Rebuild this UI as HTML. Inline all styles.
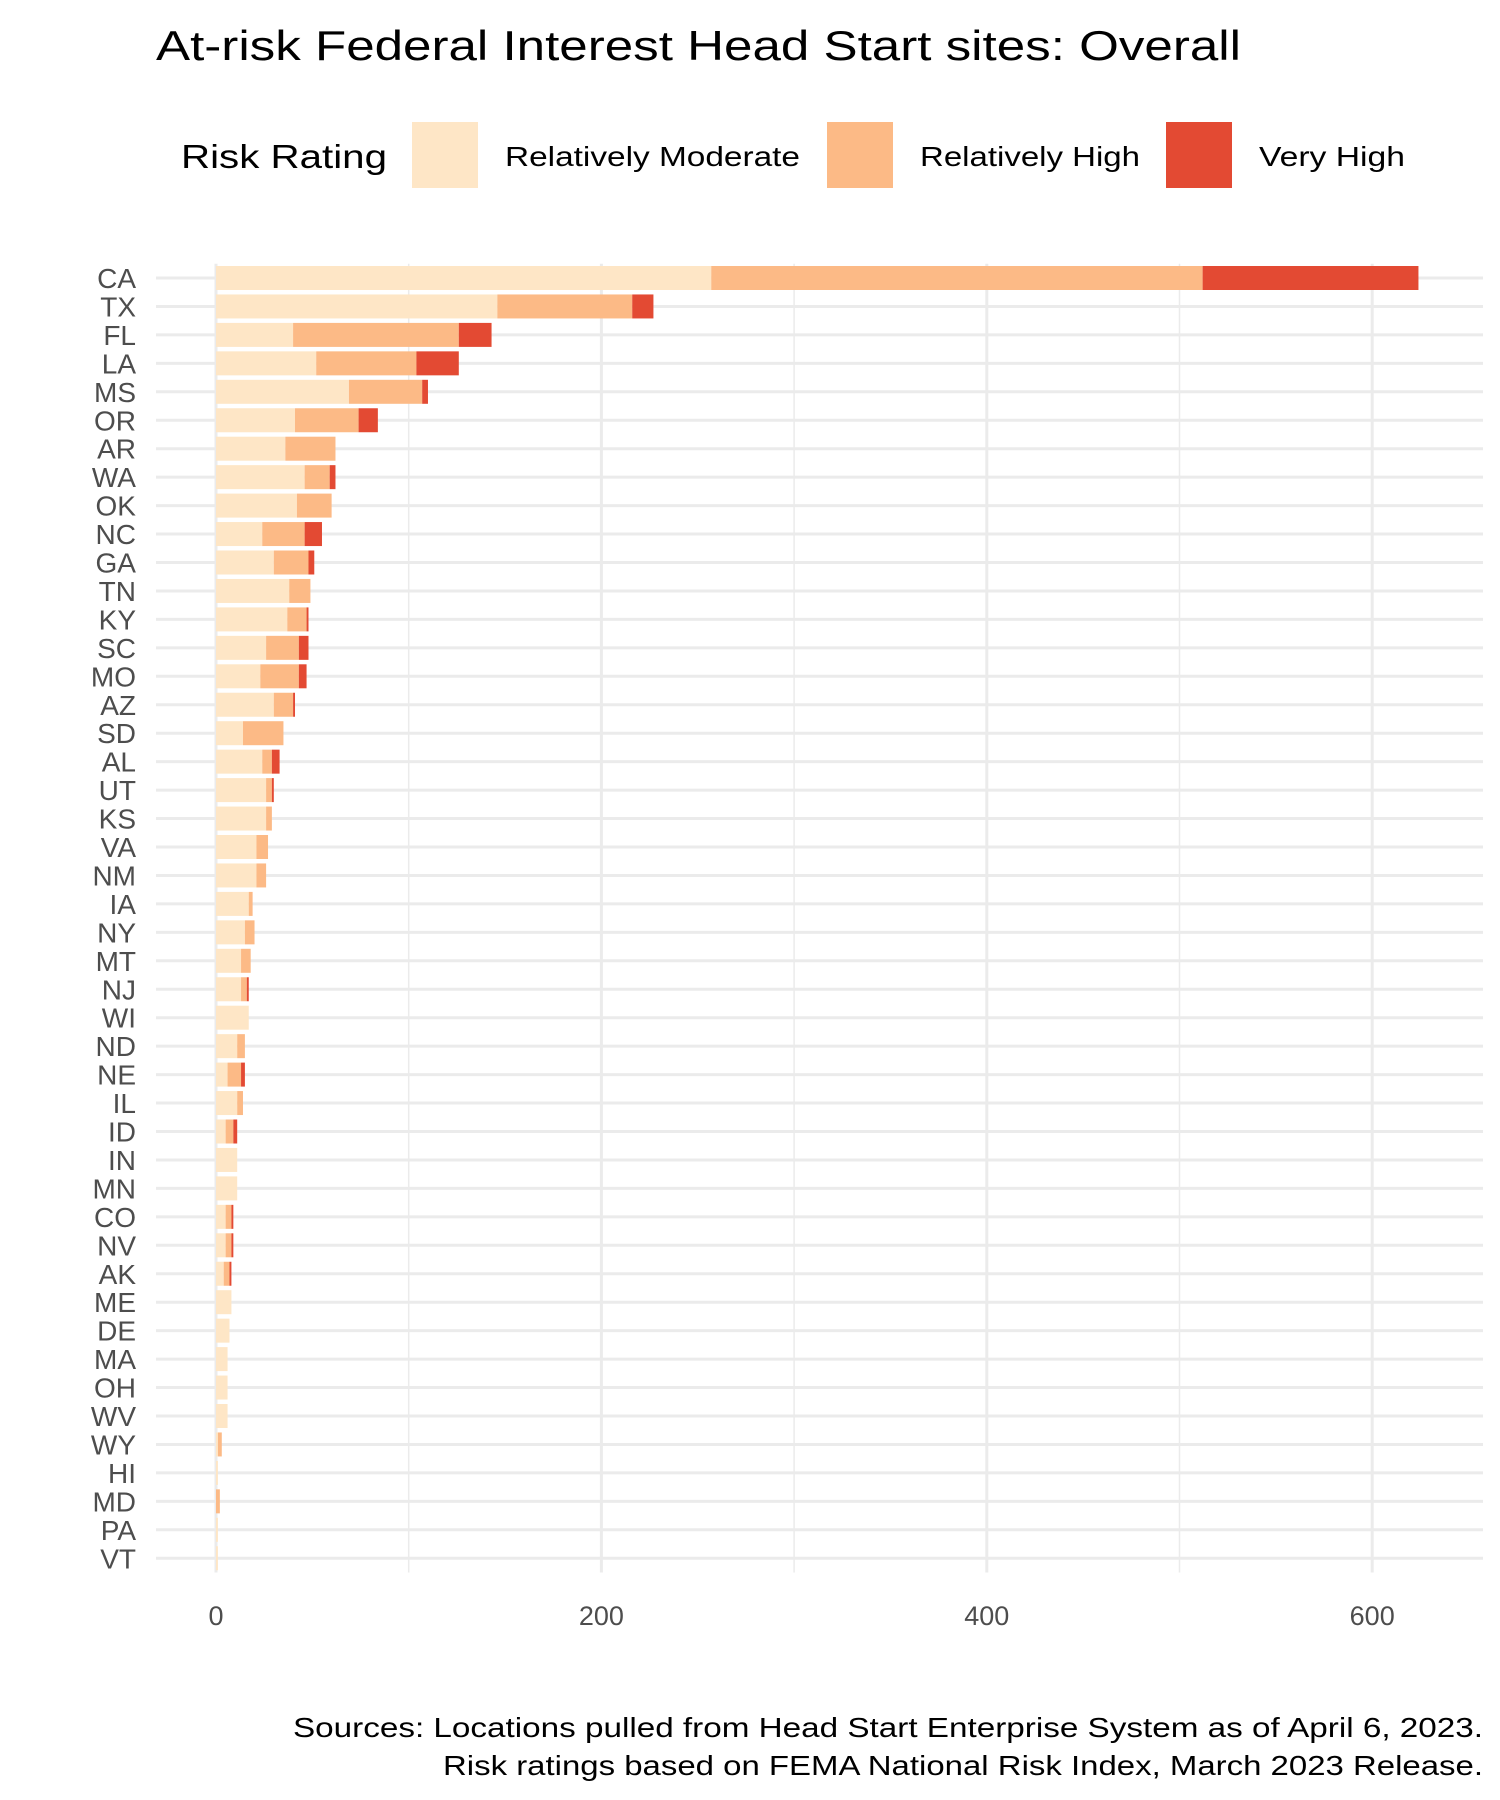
<!DOCTYPE html>
<html><head><meta charset="utf-8"><style>
html,body{margin:0;padding:0;background:#fff;}
svg{display:block;font-family:"Liberation Sans",sans-serif;}
</style></head><body>
<svg id="chart" width="1500" height="1800" viewBox="0 0 1500 1800" xmlns="http://www.w3.org/2000/svg">
<text x="156" y="60" font-size="42" fill="#000" textLength="1085" lengthAdjust="spacingAndGlyphs">At-risk Federal Interest Head Start sites: Overall</text>
<g>
<text x="181" y="168" font-size="33" fill="#000" textLength="206" lengthAdjust="spacingAndGlyphs">Risk Rating</text>
<rect x="412" y="122" width="66" height="66" fill="#fee6c6"/>
<text x="505" y="166" font-size="28" fill="#000" textLength="295" lengthAdjust="spacingAndGlyphs">Relatively Moderate</text>
<rect x="827" y="122" width="66" height="66" fill="#fcba86"/>
<text x="920" y="166" font-size="28" fill="#000" textLength="220" lengthAdjust="spacingAndGlyphs">Relatively High</text>
<rect x="1166" y="122" width="66" height="66" fill="#e34a33"/>
<text x="1259" y="166" font-size="28" fill="#000" textLength="146" lengthAdjust="spacingAndGlyphs">Very High</text>
</g>
<g id="grid"></g>
<g id="bars"></g>
<g id="ylabels"></g>
<g id="xlabels"></g>
<text x="1483" y="1737" font-size="28" text-anchor="end" fill="#000" textLength="1190" lengthAdjust="spacingAndGlyphs">Sources: Locations pulled from Head Start Enterprise System as of April 6, 2023.</text>
<text x="1483" y="1775" font-size="28" text-anchor="end" fill="#000" textLength="1040" lengthAdjust="spacingAndGlyphs">Risk ratings based on FEMA National Risk Index, March 2023 Release.</text>
</svg>
<script>
const states = ["CA","TX","FL","LA","MS","OR","AR","WA","OK","NC","GA","TN","KY","SC","MO","AZ","SD","AL","UT","KS","VA","NM","IA","NY","MT","NJ","WI","ND","NE","IL","ID","IN","MN","CO","NV","AK","ME","DE","MA","OH","WV","WY","HI","MD","PA","VT"];
const moderate = [257,146,40,52,69,41,36,46,42,24,30,38,37,26,23,30,14,24,26,26,21,21,17,15,13,13,17,11,6,11,5,11,11,5,5,4,8,7,6,6,6,1,1,0,1,1];
const high = [255,70,86,52,38,33,26,13,18,22,18,11,10,17,20,10,21,5,3,3,6,5,2,5,5,3,0,4,7,3,4,0,0,3,3,3,0,0,0,0,0,2,0,2,0,0];
const veryHigh = [112,11,17,22,3,10,0,3,0,9,3,0,1,5,4,1,0,4,1,0,0,0,0,0,0,1,0,0,2,0,2,0,0,1,1,1,0,0,0,0,0,0,0,0,0,0];
const xTicks = [0,200,400,600];
const xMinor = [100,300,500];

const NS="http://www.w3.org/2000/svg";
const x0=216, xScale=1.927, yTop=278, step=28.45, bandH=24;
const plotL=156, plotR=1483;
function xPos(v){return x0+v*xScale;}
function yPos(i){return yTop+i*step;}
function mk(tag,attrs,parent){const e=document.createElementNS(NS,tag);for(const k in attrs)e.setAttribute(k,attrs[k]);parent.appendChild(e);return e;}
const grid=document.getElementById('grid'),bars=document.getElementById('bars'),yl=document.getElementById('ylabels'),xl=document.getElementById('xlabels');
const gTop=yPos(0)-step/2, gBot=yPos(states.length-1)+step/2;
xMinor.forEach(v=>{const l=mk('line',{x1:xPos(v),x2:xPos(v),y1:gTop,y2:gBot,stroke:'#ebebeb','stroke-width':1.5},grid);

});
xTicks.forEach(v=>{const l=mk('line',{x1:xPos(v),x2:xPos(v),y1:gTop,y2:gBot,stroke:'#ebebeb','stroke-width':3},grid);


const t=mk('text',{x:xPos(v),y:1625,'font-size':27,fill:'#4d4d4d','text-anchor':'middle'},xl);t.textContent=v;

});
states.forEach((s,i)=>{const y=yPos(i);
const l=mk('line',{x1:plotL,x2:plotR,y1:y,y2:y,stroke:'#ebebeb','stroke-width':3},grid);


const t=mk('text',{x:136,y:y+10,'font-size':28,fill:'#4d4d4d','text-anchor':'end'},yl);t.textContent=s;


const vals=[moderate[i],high[i],veryHigh[i]],cols=['#fee6c6','#fcba86','#e34a33'],names=['moderate','high','very-high'];
let acc=0;vals.forEach((v,j)=>{if(v>0){const r=mk('rect',{x:xPos(acc),y:y-bandH/2,width:v*xScale,height:bandH,fill:cols[j]},bars);

}acc+=v;});
});
</script>
</body></html>
